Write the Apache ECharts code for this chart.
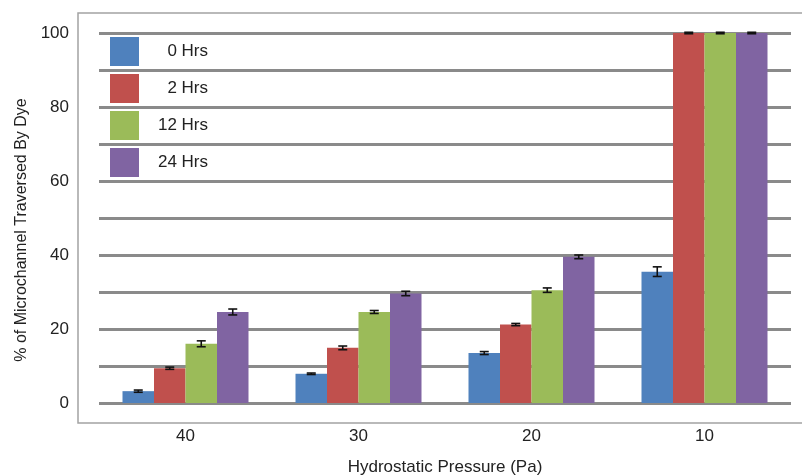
<!DOCTYPE html>
<html>
<head>
<meta charset="utf-8">
<script src="https://cdn.jsdelivr.net/npm/echarts@6/dist/echarts.min.js"></script>
<style>
  html, body { margin: 0; padding: 0; background: #fff; }
  #main { width: 802px; height: 475px; }
</style>
</head>
<body>
<div id="main"></div>
<script>
  // pressure categories (Pa)
  var categories = ['40', '30', '20', '10'];
  var seriesNames = ['0 Hrs', '2 Hrs', '12 Hrs', '24 Hrs'];
  var colors = ['#4F81BD', '#C0504D', '#9BBB59', '#8064A2'];

  // % traversed, one array per time point
  var hrs0 = [3.2, 7.9, 13.5, 35.5];
  var hrs2 = [9.4, 14.9, 21.2, 100];
  var hrs12 = [16.0, 24.6, 30.5, 100];
  var hrs24 = [24.6, 29.6, 39.5, 100];

  // error bar half widths
  var err0 = [0.3, 0.2, 0.4, 1.3];
  var err2 = [0.3, 0.5, 0.3, 0.2];
  var err12 = [0.8, 0.4, 0.6, 0.2];
  var err24 = [0.8, 0.6, 0.5, 0.2];

  var values = [hrs0, hrs2, hrs12, hrs24];
  var errors = [err0, err2, err12, err24];
  var BAR_W = 31.5;

  var myChart = echarts.init(document.getElementById('main'));

  var series = [];
  values.forEach(function (vals, i) {
    series.push({
      name: seriesNames[i],
      type: 'bar',
      barWidth: BAR_W,
      barGap: '0%',
      itemStyle: { color: colors[i] },
      data: vals
    });
  });
  // error bars drawn on top of the bars
  values.forEach(function (vals, i) {
    series.push({
      type: 'custom',
      z: 10,
      silent: true,
      renderItem: function (params, api) {
        var c = api.value(0), v = api.value(1), e = api.value(2);
        var p = api.coord([c, v]);
        var x = p[0] - 2 * BAR_W + (i + 0.5) * BAR_W;
        var yHi = api.coord([c, v + e])[1];
        var yLo = api.coord([c, v - e])[1];
        var st = { stroke: '#111', lineWidth: 1.6 };
        return {
          type: 'group',
          children: [
            { type: 'line', shape: { x1: x, y1: yHi, x2: x, y2: yLo }, style: st },
            { type: 'line', shape: { x1: x - 4.5, y1: yHi, x2: x + 4.5, y2: yHi }, style: st },
            { type: 'line', shape: { x1: x - 4.5, y1: yLo, x2: x + 4.5, y2: yLo }, style: st }
          ]
        };
      },
      encode: { x: 0, y: 1 },
      data: vals.map(function (v, k) { return [k, v, errors[i][k]]; })
    });
  });

  var option = {
    backgroundColor: '#fff',
    animation: false,
    textStyle: { fontFamily: 'Liberation Sans' },
    graphic: [{
      type: 'rect',
      shape: { x: 78, y: 13, width: 740, height: 410 },
      style: { fill: 'none', stroke: '#a3a3a3', lineWidth: 1.5 },
      z: -1
    }],
    legend: {
      orient: 'vertical',
      left: 110,
      top: 37,
      padding: 0,
      itemWidth: 29,
      itemHeight: 29,
      itemGap: 8,
      icon: 'rect',
      data: seriesNames,
      formatter: function (name) { return '{a|' + name + '}'; },
      textStyle: {
        rich: {
          a: { width: 64, align: 'right', fontSize: 17, color: '#222', fontFamily: 'Liberation Sans' }
        }
      }
    },
    grid: { left: 99, right: 11, top: 33, bottom: 72, outerBoundsMode: 'none' },
    xAxis: {
      type: 'category',
      data: categories,
      axisLine: { show: false },
      axisTick: { show: false },
      axisLabel: { margin: 25, fontSize: 17, color: '#222' },
      name: 'Hydrostatic Pressure (Pa)',
      nameLocation: 'middle',
      nameGap: 56,
      nameTextStyle: { fontSize: 17, color: '#222' }
    },
    yAxis: {
      type: 'value',
      min: 0,
      max: 100,
      interval: 10,
      axisLine: { show: false },
      axisTick: { show: false },
      axisLabel: {
        margin: 30,
        fontSize: 17,
        color: '#222',
        formatter: function (v) { return v % 20 === 0 ? v : ''; }
      },
      splitLine: { lineStyle: { color: '#8a8a8a', width: 3 } },
      name: '% of Microchannel Traversed By Dye',
      nameLocation: 'middle',
      nameGap: 68,
      nameTextStyle: { fontSize: 16, color: '#222', padding: [0, 24, 0, 0] }
    },
    series: series
  };

  myChart.setOption(option, true);
</script>
</body>
</html>
